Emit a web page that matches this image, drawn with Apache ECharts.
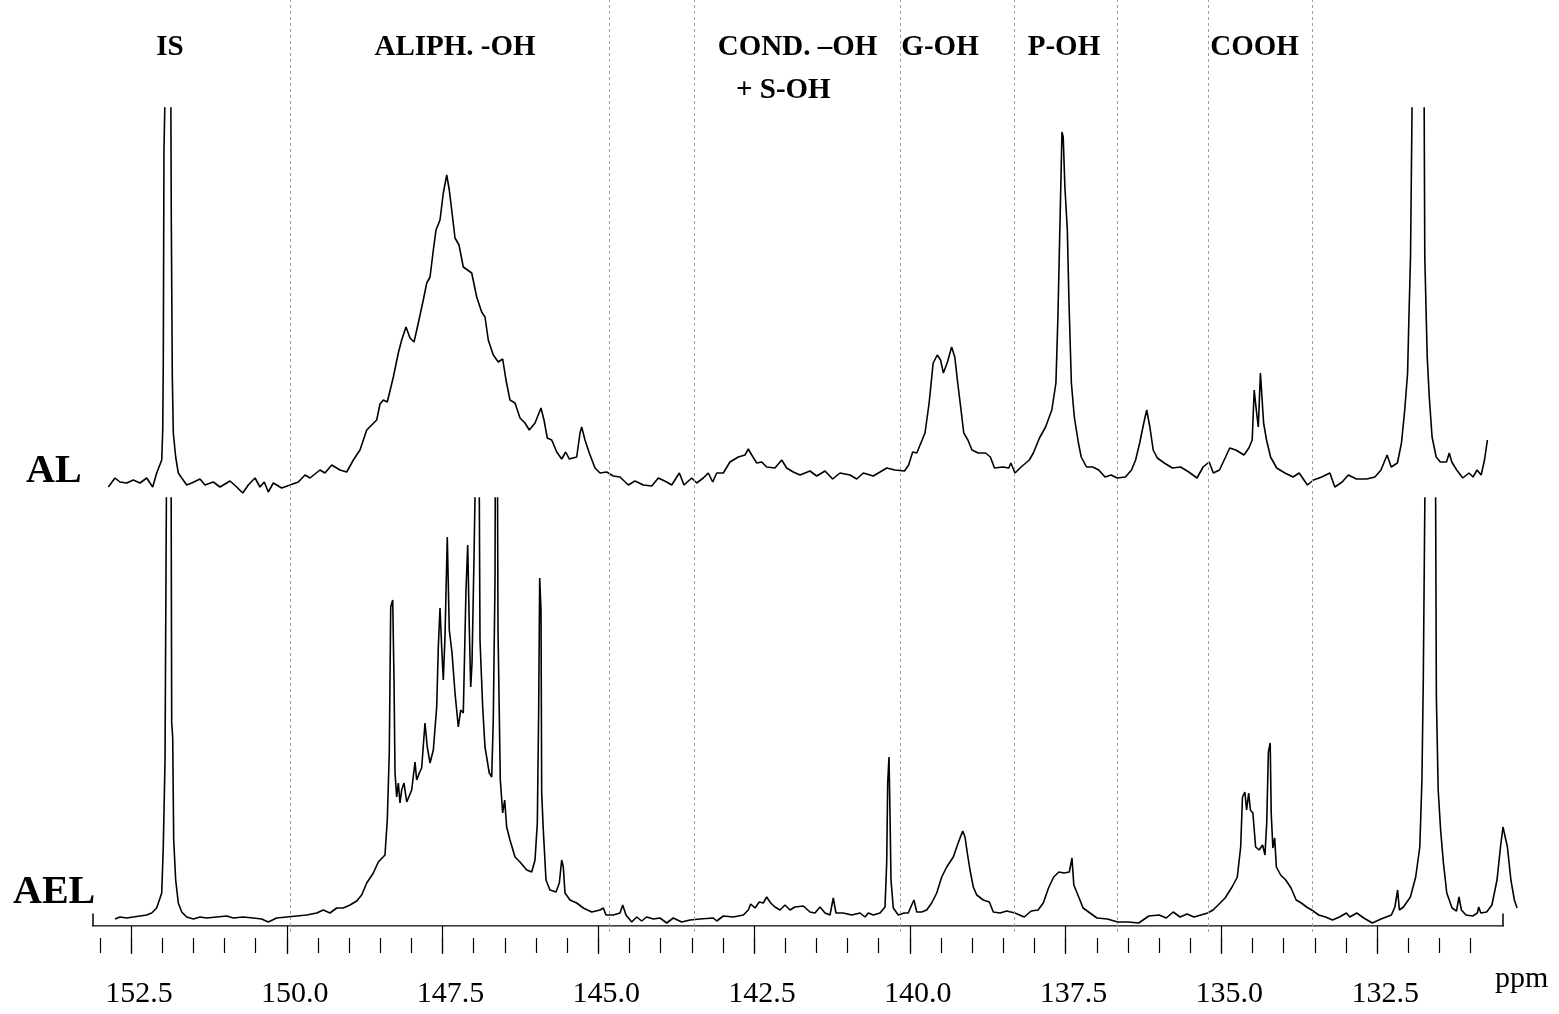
<!DOCTYPE html>
<html><head><meta charset="utf-8">
<script src="https://cdn.jsdelivr.net/npm/echarts@6/dist/echarts.min.js"></script>
<style>html,body{margin:0;padding:0;background:#fff}#c{width:1559px;height:1014px}</style>
</head><body><div id="c"></div>
<script>
// ---- DATA (chemical shift in ppm, intensity in arbitrary units above baseline) ----
const AL = [[152.864,-5],[152.757,4],[152.677,0],[152.569,-1],[152.463,2],[152.356,-1],[152.248,4],[152.152,-5],[152.088,9],[152.007,22],[151.991,52],[151.982,119],[151.971,332],[151.943,420],[151.903,900],[151.863,420],[151.853,259],[151.837,105],[151.821,49],[151.783,25],[151.741,9],[151.686,4],[151.606,-3],[151.526,-1],[151.393,3],[151.313,-3],[151.179,0],[151.072,-5],[150.911,1],[150.804,-5],[150.707,-11],[150.618,-3],[150.510,4],[150.430,-5],[150.361,0],[150.297,-10],[150.216,-1],[150.082,-6],[149.948,-3],[149.815,0],[149.708,7],[149.627,4],[149.467,12],[149.387,9],[149.279,17],[149.146,12],[149.038,10],[148.932,22],[148.825,32],[148.717,52],[148.557,62],[148.504,78],[148.451,82],[148.387,80],[148.290,105],[148.210,129],[148.156,142],[148.087,155],[148.022,144],[147.958,140],[147.889,159],[147.809,182],[147.754,199],[147.701,205],[147.648,232],[147.605,252],[147.541,262],[147.488,289],[147.433,307],[147.392,292],[147.353,272],[147.300,244],[147.236,237],[147.167,215],[147.032,209],[146.952,185],[146.872,170],[146.819,165],[146.766,142],[146.686,127],[146.605,120],[146.535,123],[146.482,102],[146.418,82],[146.337,79],[146.257,64],[146.177,59],[146.108,52],[146.016,59],[145.920,74],[145.872,62],[145.819,44],[145.748,42],[145.668,30],[145.588,23],[145.524,30],[145.466,23],[145.347,25],[145.294,49],[145.267,55],[145.214,42],[145.145,29],[145.053,14],[144.973,9],[144.866,10],[144.760,6],[144.652,5],[144.519,-3],[144.411,1],[144.278,-3],[144.143,-4],[144.037,4],[143.903,0],[143.822,-3],[143.700,9],[143.625,-3],[143.501,4],[143.421,-1],[143.315,4],[143.235,9],[143.164,0],[143.100,9],[142.994,9],[142.887,20],[142.754,25],[142.646,27],[142.593,33],[142.538,27],[142.458,19],[142.378,20],[142.298,15],[142.165,14],[142.057,22],[141.977,14],[141.871,10],[141.763,7],[141.603,11],[141.495,6],[141.362,11],[141.239,3],[141.121,9],[140.961,7],[140.853,3],[140.747,9],[140.587,6],[140.479,10],[140.372,14],[140.239,12],[140.086,11],[140.020,17],[139.955,30],[139.889,29],[139.823,39],[139.757,49],[139.691,79],[139.626,119],[139.560,127],[139.508,122],[139.462,109],[139.396,120],[139.330,135],[139.279,125],[139.232,99],[139.179,72],[139.135,49],[139.069,42],[139.003,32],[138.903,29],[138.786,29],[138.708,25],[138.642,14],[138.510,15],[138.412,14],[138.379,19],[138.313,9],[138.215,15],[138.083,22],[138.018,29],[137.920,44],[137.822,55],[137.722,72],[137.656,99],[137.624,165],[137.605,219],[137.578,295],[137.559,350],[137.539,345],[137.512,295],[137.473,252],[137.446,179],[137.408,99],[137.361,65],[137.295,39],[137.250,25],[137.165,15],[137.066,15],[136.968,12],[136.868,5],[136.771,7],[136.673,4],[136.541,5],[136.443,12],[136.377,22],[136.312,39],[136.246,59],[136.199,72],[136.148,55],[136.095,32],[136.029,24],[135.917,19],[135.787,14],[135.655,15],[135.524,10],[135.392,4],[135.294,15],[135.196,20],[135.130,9],[135.031,12],[134.933,25],[134.867,34],[134.769,32],[134.638,27],[134.559,34],[134.506,42],[134.474,92],[134.440,72],[134.408,55],[134.374,109],[134.342,110],[134.323,59],[134.276,42],[134.211,25],[134.113,14],[133.981,9],[133.850,5],[133.752,9],[133.620,-3],[133.522,2],[133.391,5],[133.259,9],[133.180,-5],[133.062,0],[132.964,7],[132.832,3],[132.668,3],[132.537,5],[132.439,12],[132.341,27],[132.275,15],[132.176,19],[132.110,39],[132.058,72],[132.012,109],[131.993,159],[131.965,225],[131.933,420],[131.845,900],[131.749,420],[131.736,225],[131.697,125],[131.664,85],[131.619,45],[131.553,25],[131.487,20],[131.388,20],[131.343,29],[131.303,20],[131.224,12],[131.126,4],[131.027,9],[130.961,5],[130.897,12],[130.831,7],[130.778,22],[130.731,42]];

const AEL = [[152.757,-4],[152.677,-2],[152.569,-3],[152.463,-2],[152.356,-1],[152.248,0],[152.168,2],[152.088,7],[152.007,22],[151.982,68],[151.954,155],[151.927,480],[151.893,900],[151.858,480],[151.847,192],[151.831,178],[151.815,75],[151.783,35],[151.741,12],[151.686,3],[151.606,-2],[151.500,-4],[151.393,-2],[151.285,-3],[151.125,-2],[150.964,-1],[150.858,-3],[150.698,-2],[150.537,-3],[150.403,-4],[150.297,-7],[150.162,-3],[150.001,-2],[149.841,-1],[149.680,0],[149.520,2],[149.414,5],[149.307,2],[149.199,7],[149.093,7],[148.985,10],[148.878,14],[148.798,20],[148.717,32],[148.611,42],[148.531,53],[148.424,60],[148.387,95],[148.355,162],[148.332,308],[148.300,315],[148.279,235],[148.263,142],[148.236,118],[148.210,132],[148.183,112],[148.156,125],[148.119,132],[148.075,113],[147.995,125],[147.942,153],[147.915,135],[147.873,142],[147.835,147],[147.782,192],[147.745,168],[147.701,152],[147.648,165],[147.594,208],[147.568,268],[147.541,307],[147.514,268],[147.488,235],[147.461,278],[147.424,378],[147.392,285],[147.348,262],[147.300,222],[147.247,188],[147.209,205],[147.167,202],[147.124,325],[147.096,370],[147.071,288],[147.048,228],[147.027,252],[146.995,358],[146.963,480],[146.939,700],[146.915,480],[146.899,275],[146.856,208],[146.819,168],[146.750,142],[146.711,138],[146.686,195],[146.658,335],[146.639,800],[146.610,285],[146.573,135],[146.535,102],[146.503,115],[146.471,88],[146.418,75],[146.337,58],[146.257,53],[146.149,45],[146.069,43],[146.016,55],[145.979,92],[145.957,208],[145.941,337],[145.920,305],[145.909,122],[145.883,85],[145.840,35],[145.776,25],[145.679,23],[145.626,32],[145.588,55],[145.562,48],[145.535,22],[145.455,15],[145.347,12],[145.241,7],[145.106,3],[144.973,5],[144.920,7],[144.877,0],[144.760,0],[144.652,2],[144.609,10],[144.556,0],[144.464,-7],[144.384,-2],[144.304,-6],[144.224,-2],[144.118,-4],[144.010,-3],[143.903,-8],[143.797,-3],[143.662,-7],[143.529,-5],[143.368,-4],[143.155,-3],[143.100,-6],[142.994,-1],[142.834,-2],[142.673,0],[142.593,5],[142.555,11],[142.486,7],[142.417,13],[142.352,12],[142.298,18],[142.234,12],[142.165,8],[142.084,5],[142.004,10],[141.924,5],[141.844,8],[141.710,9],[141.603,3],[141.523,2],[141.442,8],[141.362,2],[141.282,0],[141.229,17],[141.186,2],[141.068,2],[140.934,0],[140.800,2],[140.720,-2],[140.667,2],[140.587,0],[140.479,2],[140.399,8],[140.372,52],[140.356,132],[140.335,158],[140.319,102],[140.303,35],[140.266,7],[140.186,0],[140.094,2],[140.025,2],[139.971,10],[139.934,15],[139.890,3],[139.810,3],[139.730,5],[139.650,12],[139.569,22],[139.489,38],[139.409,48],[139.303,58],[139.248,68],[139.195,77],[139.152,84],[139.115,78],[139.078,62],[139.035,45],[138.982,28],[138.927,20],[138.822,15],[138.725,13],[138.661,3],[138.554,2],[138.446,4],[138.313,2],[138.165,-2],[138.053,4],[137.942,5],[137.859,12],[137.775,27],[137.692,38],[137.608,43],[137.525,42],[137.441,43],[137.398,57],[137.369,30],[137.303,20],[137.220,7],[137.109,2],[136.997,-3],[136.830,-4],[136.663,-7],[136.496,-7],[136.329,-8],[136.164,-1],[135.997,0],[135.885,-3],[135.774,3],[135.663,-2],[135.552,1],[135.440,-2],[135.329,0],[135.219,2],[135.135,5],[135.052,10],[134.941,17],[134.829,28],[134.745,38],[134.691,68],[134.662,118],[134.623,123],[134.596,105],[134.562,122],[134.535,105],[134.495,102],[134.451,68],[134.395,65],[134.339,70],[134.301,60],[134.273,92],[134.246,163],[134.217,172],[134.201,102],[134.174,67],[134.145,77],[134.118,48],[134.050,40],[133.967,35],[133.883,27],[133.800,15],[133.718,12],[133.634,8],[133.551,5],[133.439,0],[133.328,-2],[133.217,-5],[133.106,-2],[132.994,2],[132.940,-2],[132.827,2],[132.716,-3],[132.577,-8],[132.439,-4],[132.272,0],[132.216,8],[132.172,25],[132.144,5],[132.078,8],[131.967,18],[131.882,38],[131.816,68],[131.782,135],[131.760,235],[131.726,480],[131.646,900],[131.566,480],[131.550,218],[131.521,125],[131.482,85],[131.437,52],[131.383,22],[131.299,7],[131.227,4],[131.187,18],[131.149,5],[131.076,0],[130.966,-1],[130.893,2],[130.871,8],[130.837,2],[130.743,3],[130.659,10],[130.577,35],[130.521,68],[130.481,88],[130.449,90],[130.410,68],[130.354,35],[130.298,15],[130.255,7]];

const regionBounds = [149.95, 144.83, 143.46, 140.16, 138.33, 136.67, 135.21, 133.55];
const regionLabels = [
  {text: 'IS', ppm: 151.874, row: 0},
  {text: 'ALIPH. -OH', ppm: 147.300, row: 0},
  {text: 'COND. \u2013OH', ppm: 141.803, row: 0},
  {text: '+ S-OH', ppm: 142.031, row: 1},
  {text: 'G-OH', ppm: 139.516, row: 0},
  {text: 'P-OH', ppm: 137.527, row: 0},
  {text: 'COOH', ppm: 134.469, row: 0}
];
const majorTicks = [152.5, 150.0, 147.5, 145.0, 142.5, 140.0, 137.5, 135.0, 132.5];
const minorTicks = [153.0, 152.5, 152.0, 151.5, 151.0, 150.5, 150.0, 149.5, 149.0, 148.5, 148.0, 147.5, 147.0, 146.5, 146.0, 145.5, 145.0, 144.5, 144.0, 143.5, 143.0, 142.5, 142.0, 141.5, 141.0, 140.5, 140.0, 139.5, 139.0, 138.5, 138.0, 137.5, 137.0, 136.5, 136.0, 135.5, 135.0, 134.5, 134.0, 133.5, 133.0, 132.5, 132.0, 131.5, 131.0];
const sampleNames = ['AL', 'AEL'];
const axisTitle = 'ppm';

// ---- LAYOUT ----
const PPM_MAX = 153.11, PPM_MIN_FRAME = 130.48, PPM_MIN_PLOT = 130.208;
const FONT = '"Liberation Serif", "Times New Roman", serif';
const LEFT = 93, PLOT_W = 1427, FRAME_W = 1410;

const chart = echarts.init(document.getElementById('c'), null, {renderer: 'canvas'});

const hiddenX = (grid, min) => ({type: 'value', gridIndex: grid, min: min, max: PPM_MAX, inverse: true, show: false, splitLine: {show: false}});
const hiddenY = (grid, min, max) => ({type: 'value', gridIndex: grid, min: min, max: max, show: false, splitLine: {show: false}});

const option = {
  animation: false,
  backgroundColor: '#fff',
  grid: [
    {left: LEFT, width: PLOT_W, top: 108, height: 392},
    {left: LEFT, width: PLOT_W, top: 498, height: 428},
    {left: LEFT, width: FRAME_W, top: 914, height: 12},
    {left: LEFT, width: PLOT_W, top: 0, height: 932}
  ],
  xAxis: [
    hiddenX(0, PPM_MIN_PLOT),
    hiddenX(1, PPM_MIN_PLOT),
    {type: 'value', gridIndex: 2, min: PPM_MIN_FRAME, max: PPM_MAX, inverse: true,
     axisLine: {show: true, lineStyle: {color: '#000', width: 1.5}},
     axisTick: {show: false}, axisLabel: {show: false}, splitLine: {show: false}},
    {type: 'value', gridIndex: 2, min: PPM_MIN_FRAME, max: PPM_MAX, inverse: true,
     position: 'bottom', offset: 12,
     axisLine: {show: true, lineStyle: {color: '#8a8a8a', width: 1}},
     axisTick: {show: true, customValues: majorTicks, length: 28, lineStyle: {color: '#000', width: 1.2}},
     axisLabel: {show: true, customValues: majorTicks, margin: 41, color: '#000', fontFamily: FONT, fontSize: 30,
                 padding: [0, 0, 0, 16],
                 formatter: v => Number(v).toFixed(1)},
     splitLine: {show: false}},
    {type: 'value', gridIndex: 2, min: PPM_MIN_FRAME, max: PPM_MAX, inverse: true,
     position: 'bottom', offset: 12,
     axisLine: {show: false},
     axisTick: {show: true, customValues: minorTicks, length: 15, lineStyle: {color: '#000', width: 1.2}},
     axisLabel: {show: false}, splitLine: {show: false}},
    hiddenX(3, PPM_MIN_PLOT)
  ],
  yAxis: [
    hiddenY(0, -18, 374),
    hiddenY(1, -11, 417),
    {type: 'value', gridIndex: 2, min: 0, max: 1, position: 'left',
     axisLine: {show: true, lineStyle: {color: '#000', width: 1.5}},
     axisTick: {show: false}, axisLabel: {show: false}, splitLine: {show: false}},
    {type: 'value', gridIndex: 2, min: 0, max: 1, position: 'right',
     axisLine: {show: true, lineStyle: {color: '#000', width: 1.5}},
     axisTick: {show: false}, axisLabel: {show: false}, splitLine: {show: false}},
    hiddenY(3, 0, 1)
  ],
  series: [
    {name: 'bounds', type: 'line', xAxisIndex: 5, yAxisIndex: 4, data: [], z: 1, silent: true,
     markLine: {silent: true, symbol: ['none', 'none'], animation: false, label: {show: false},
                lineStyle: {type: [3, 3], color: '#a0a0a0', width: 1},
                data: regionBounds.map(v => ({xAxis: v}))}},
    {name: sampleNames[0], type: 'line', xAxisIndex: 0, yAxisIndex: 0, data: AL, showSymbol: false, symbol: 'none',
     clip: true, z: 3, lineStyle: {color: '#000', width: 1.6}},
    {name: sampleNames[1], type: 'line', xAxisIndex: 1, yAxisIndex: 1, data: AEL, showSymbol: false, symbol: 'none',
     clip: true, z: 3, lineStyle: {color: '#000', width: 1.6}}
  ]
};
chart.setOption(option);

// text labels positioned through the axis scale
const rowY = [47.5, 91];
const graphics = regionLabels.map(l => ({
  type: 'text',
  x: chart.convertToPixel({xAxisIndex: 5}, l.ppm),
  y: rowY[l.row],
  style: {text: l.text, fill: '#000', font: 'bold 29px ' + FONT, align: 'center', verticalAlign: 'middle'}
}));
graphics.push(
  {type: 'text', x: 26, y: 472, style: {text: sampleNames[0], fill: '#000', font: 'bold 40px ' + FONT, align: 'left', verticalAlign: 'middle'}},
  {type: 'text', x: 13, y: 893, style: {text: sampleNames[1], fill: '#000', font: 'bold 40px ' + FONT, align: 'left', verticalAlign: 'middle'}},
  {type: 'text', x: 1495, y: 979, style: {text: axisTitle, fill: '#000', font: '30px ' + FONT, align: 'left', verticalAlign: 'middle'}}
);
chart.setOption({graphic: graphics});
</script>
</body></html>
